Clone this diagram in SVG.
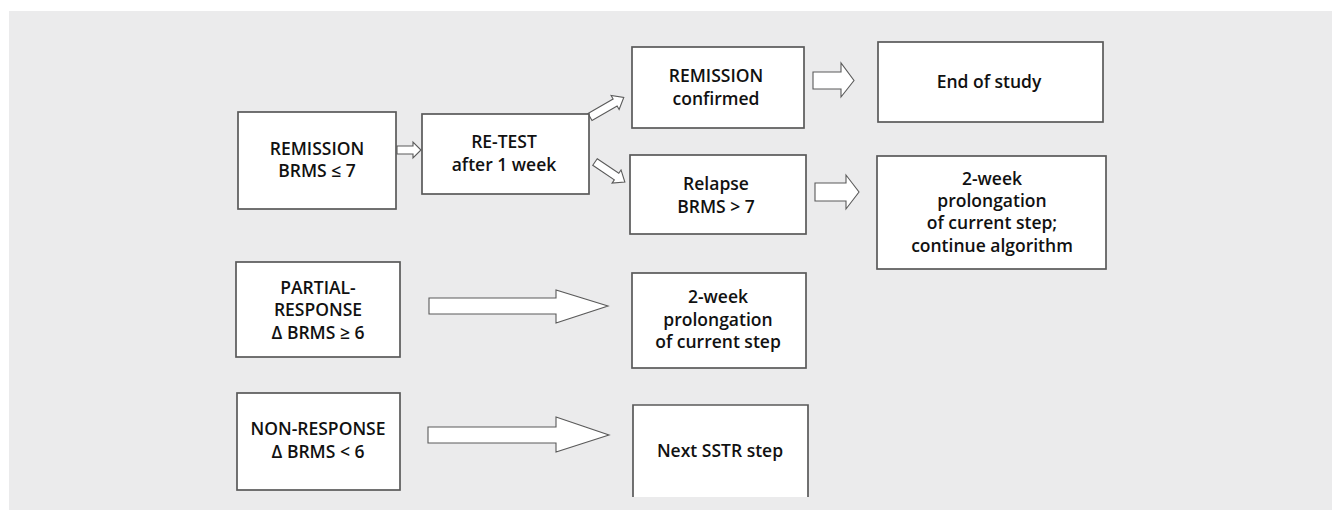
<svg xmlns="http://www.w3.org/2000/svg" width="1335" height="510" viewBox="0 0 1335 510">
<defs>
<style>
.box{fill:#ffffff;stroke:#5a5a5a;stroke-width:1.7}
.arr{fill:#ffffff;stroke:#5a5a5a;stroke-width:1.1;stroke-linejoin:miter}
text{font-family:"Open Sans","Liberation Sans",sans-serif;font-weight:600;font-size:17.5px;fill:#111111;text-anchor:middle}
</style>
</defs>
<rect x="0" y="0" width="1335" height="510" fill="#ffffff"/>
<rect x="9" y="11" width="1323" height="499" fill="#ebebec"/>

<g id="connectors">
<polygon class="arr" points="397,146 413,146 413,142 421,150 413,158 413,154 397,154"/>
<polygon class="arr" transform="translate(590,117) rotate(-30)" points="0,-4 29,-4 29,-8 39,0 29,8 29,4 0,4"/>
<polygon class="arr" transform="translate(595,162) rotate(34)" points="0,-4 26,-4 26,-8 36,0 26,8 26,4 0,4"/>
<polygon class="arr" points="813,72 841,72 841,63 854,80.5 841,97 841,89 813,89"/>
<polygon class="arr" points="815,183 846,183 846,175 859,192 846,209 846,201 815,201"/>
<polygon class="arr" points="429,298 556,298 556,290 608,306 556,323 556,314 429,314"/>
<polygon class="arr" points="428,427 556,427 556,417 609,435 556,452 556,443 428,443"/>
</g>

<g id="n-remission">
<rect class="box" x="238" y="112" width="158" height="97"/>
<text x="317" y="155">REMISSION<tspan x="317" y="177">BRMS ≤ 7</tspan></text>
</g>
<g id="n-retest">
<rect class="box" x="422" y="114" width="167" height="80"/>
<text x="504" y="148">RE-TEST<tspan x="504" y="171">after 1 week</tspan></text>
</g>
<g id="n-confirmed">
<rect class="box" x="632" y="47" width="172" height="81"/>
<text x="716" y="82">REMISSION<tspan x="716" y="104.5">confirmed</tspan></text>
</g>
<g id="n-end">
<rect class="box" x="878" y="42" width="225" height="80"/>
<text x="989" y="88">End of study</text>
</g>
<g id="n-relapse">
<rect class="box" x="630" y="155" width="176" height="79"/>
<text x="716" y="190">Relapse<tspan x="716" y="213">BRMS &gt; 7</tspan></text>
</g>
<g id="n-prolong-continue">
<rect class="box" x="877" y="156" width="229" height="113"/>
<text x="992" y="185">2-week<tspan x="992" y="207">prolongation</tspan><tspan x="992" y="229">of current step;</tspan><tspan x="992" y="251.5">continue algorithm</tspan></text>
</g>
<g id="n-partial">
<rect class="box" x="236" y="262" width="164" height="95"/>
<text x="318" y="293.5">PARTIAL-<tspan x="318" y="316">RESPONSE</tspan><tspan x="318" y="338.5">Δ BRMS ≥ 6</tspan></text>
</g>
<g id="n-prolong">
<rect class="box" x="632" y="273" width="174" height="95"/>
<text x="718" y="303">2-week<tspan x="718" y="325.5">prolongation</tspan><tspan x="718" y="348">of current step</tspan></text>
</g>
<g id="n-nonresponse">
<rect class="box" x="237" y="393" width="163" height="97"/>
<text x="318" y="435">NON-RESPONSE<tspan x="318" y="457.5">Δ BRMS &lt; 6</tspan></text>
</g>
<g id="n-next">
<rect x="633" y="405" width="175" height="92" fill="#ffffff"/>
<path d="M633,497 V405 H808 V497" fill="none" stroke="#5a5a5a" stroke-width="1.7"/>
<text x="720" y="457">Next SSTR step</text>
</g>
</svg>
